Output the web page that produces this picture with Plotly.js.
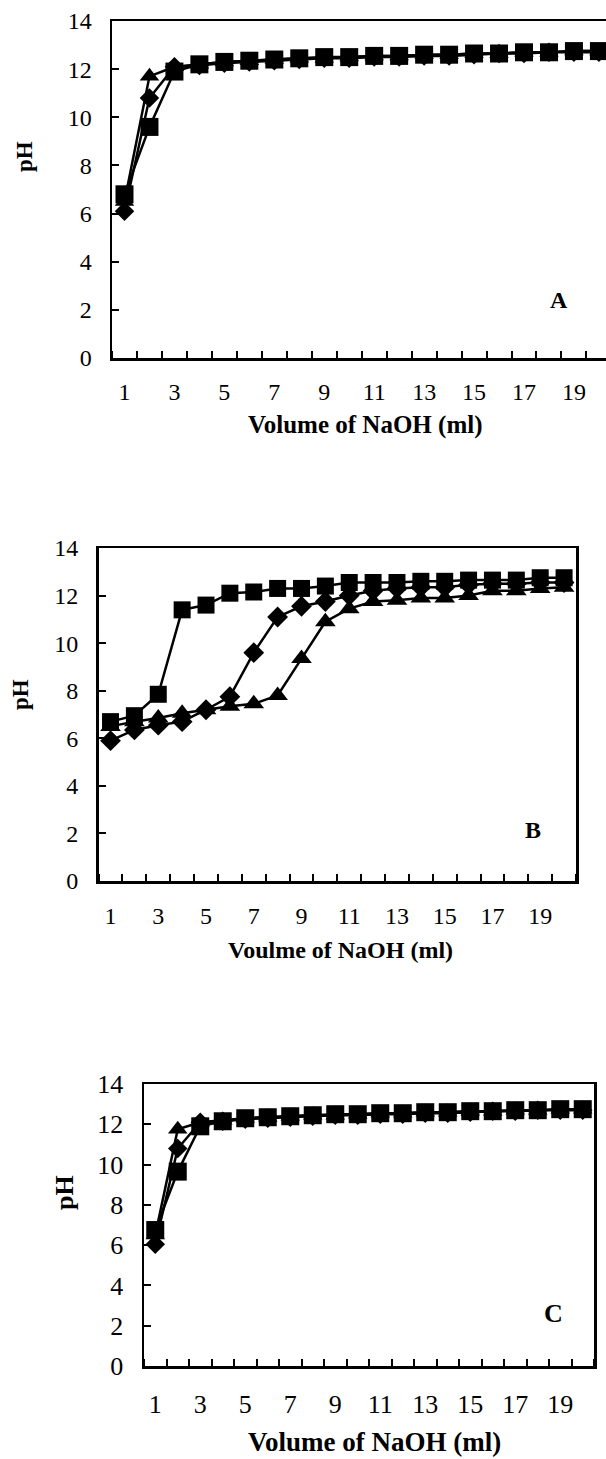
<!DOCTYPE html>
<html>
<head>
<meta charset="utf-8">
<script src="https://cdn.plot.ly/plotly-3.0.1.min.js"></script>
<style>
  html, body { margin: 0; padding: 0; background: #fff; }
  #chart { width: 606px; height: 1459px; }
</style>
</head>
<body>
<div id="chart"></div>
<script>
// Volume of NaOH (ml)
const volume = [1,2,3,4,5,6,7,8,9,10,11,12,13,14,15,16,17,18,19,20];
const xTickVals = [1,3,5,7,9,11,13,15,17,19];
const xTickText = ["1","3","5","7","9","11","13","15","17","19"];

// Panel A
const aDiamond  = [6.1,10.8,12.1,12.15,12.25,12.3,12.35,12.4,12.45,12.45,12.5,12.5,12.55,12.55,12.6,12.65,12.65,12.7,12.7,12.7];
const aTriangle = [6.5,11.7,12.1,12.2,12.3,12.35,12.4,12.45,12.45,12.5,12.55,12.55,12.6,12.6,12.65,12.65,12.7,12.7,12.75,12.75];
const aSquare   = [6.8,9.6,11.9,12.2,12.3,12.35,12.4,12.45,12.5,12.5,12.55,12.55,12.6,12.6,12.65,12.65,12.7,12.7,12.75,12.75];

// Panel B
const bDiamond  = [5.9,6.35,6.55,6.7,7.2,7.75,9.6,11.1,11.55,11.75,12.0,12.2,12.3,12.35,12.35,12.45,12.5,12.5,12.55,12.55];
const bTriangle = [6.5,6.7,6.85,7.05,7.2,7.35,7.45,7.8,9.35,10.9,11.45,11.75,11.8,11.9,11.9,12.0,12.2,12.2,12.3,12.35];
const bSquare   = [6.7,6.95,7.85,11.4,11.6,12.1,12.15,12.3,12.3,12.4,12.55,12.55,12.55,12.6,12.6,12.65,12.65,12.65,12.75,12.75];

// Panel C
const cDiamond  = [6.05,10.8,12.1,12.15,12.25,12.3,12.35,12.4,12.45,12.45,12.5,12.5,12.55,12.55,12.6,12.65,12.65,12.7,12.7,12.7];
const cTriangle = [6.5,11.75,12.1,12.2,12.3,12.35,12.4,12.45,12.45,12.5,12.55,12.55,12.6,12.6,12.65,12.65,12.7,12.7,12.75,12.75];
const cSquare   = [6.75,9.65,11.9,12.15,12.3,12.35,12.4,12.45,12.5,12.5,12.55,12.55,12.6,12.6,12.65,12.65,12.7,12.7,12.75,12.75];

const W = 606, H = 1459;
const px = v => v / W;
const py = v => 1 - v / H;
const FONT = 'Liberation Serif';

function trace(y, symbol, size, xa, ya) {
  return {
    x: volume, y: y, xaxis: xa, yaxis: ya, type: 'scatter', mode: 'lines+markers',
    line: {color: '#000', width: 2.5},
    marker: {symbol: symbol, size: size, color: '#000', line: {width: 0}},
    cliponaxis: false, showlegend: false, hoverinfo: 'skip'
  };
}

const data = [
  trace(aDiamond, 'diamond', 15, 'x', 'y'),
  trace(aTriangle, 'triangle-up', 17, 'x', 'y'),
  trace(aSquare, 'square', 18, 'x', 'y'),
  trace(bDiamond, 'diamond', 16, 'x2', 'y2'),
  trace(bTriangle, 'triangle-up', 18, 'x2', 'y2'),
  trace(bSquare, 'square', 17, 'x2', 'y2'),
  trace(cDiamond, 'diamond', 15, 'x3', 'y3'),
  trace(cTriangle, 'triangle-up', 17, 'x3', 'y3'),
  trace(cSquare, 'square', 18, 'x3', 'y3')
];

function xAxis(domain, range, anchor, fs, standoff) {
  return {
    domain: domain, range: range, anchor: anchor,
    showline: true, linecolor: '#000', linewidth: 2.5, mirror: true,
    showgrid: false, zeroline: false,
    tickmode: 'array', tickvals: xTickVals, ticktext: xTickText,
    ticks: '', ticklabelstandoff: standoff,
    minor: {tick0: 0.5, dtick: 1, ticks: 'inside', ticklen: 7, tickwidth: 2, tickcolor: '#000', showgrid: false},
    tickfont: {family: FONT, size: fs, color: '#000'},
    fixedrange: true
  };
}
function yAxis(domain, anchor, mirror, fs) {
  return {
    domain: domain, range: [0, 14], anchor: anchor,
    showline: true, linecolor: '#000', linewidth: 2.5, mirror: mirror,
    showgrid: false, zeroline: false,
    tickmode: 'linear', tick0: 0, dtick: 2,
    ticks: 'inside', ticklen: 7, tickwidth: 2, tickcolor: '#000',
    ticklabelstandoff: 13,
    tickfont: {family: FONT, size: fs, color: '#000'},
    fixedrange: true
  };
}

function ann(text, x, y, size, rot) {
  return {
    text: text, xref: 'paper', yref: 'paper', x: px(x), y: py(y),
    xanchor: 'center', yanchor: 'middle', showarrow: false,
    textangle: rot || 0,
    font: {family: FONT, size: size, color: '#000', weight: 'bold'}
  };
}

const layout = {
  width: W, height: H,
  margin: {l: 0, r: 0, t: 0, b: 0},
  paper_bgcolor: '#fff', plot_bgcolor: '#fff',
  showlegend: false,
  font: {family: FONT},
  xaxis:  xAxis([px(112), 1], [0.5, 0.5 + (606 - 112) / 24.97], 'y', 24, 11),
  yaxis:  yAxis([py(358), py(21)], 'x', false, 24),
  xaxis2: xAxis([px(98.6), px(576)], [0.5, 20.5], 'y2', 24, 12),
  yaxis2: yAxis([py(881), py(548)], 'x2', true, 24),
  xaxis3: xAxis([px(144), px(594)], [0.5, 20.5], 'y3', 26, 13),
  yaxis3: yAxis([py(1366), py(1084)], 'x3', true, 26),
  annotations: [
    ann('<b>pH</b>', 24, 157, 23, -90),
    ann('<b>Volume of NaOH (ml)</b>', 365, 425, 25),
    ann('<b>A</b>', 559, 300, 24),
    ann('<b>pH</b>', 21, 695, 23, -90),
    ann('<b>Voulme of NaOH (ml)</b>', 340, 950, 24),
    ann('<b>B</b>', 533, 830, 24),
    ann('<b>pH</b>', 64, 1193, 26, -90),
    ann('<b>Volume of NaOH (ml)</b>', 374, 1442, 27),
    ann('<b>C</b>', 553, 1313, 26)
  ]
};

Plotly.newPlot('chart', data, layout, {staticPlot: true, displayModeBar: false});
</script>
</body>
</html>
